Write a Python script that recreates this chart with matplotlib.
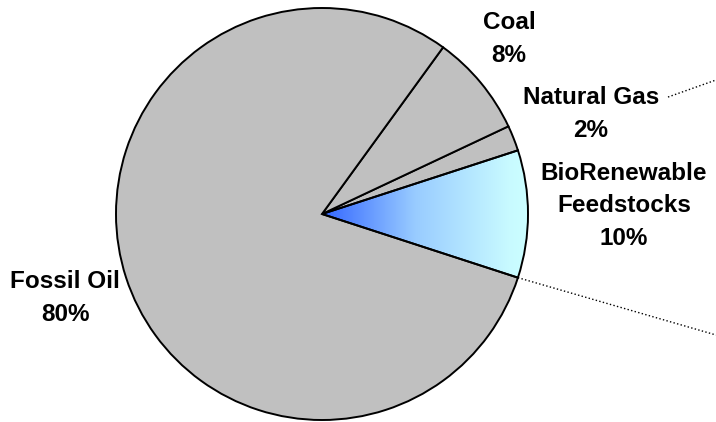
import numpy as np
import matplotlib
matplotlib.use("Agg")
import matplotlib.pyplot as plt
from matplotlib.colors import LinearSegmentedColormap

# data
labels = ["BioRenewable\nFeedstocks", "Natural Gas", "Coal", "Fossil Oil"]
shares = [10, 2, 8, 80]

plt.rcParams['font.family'] = ['Liberation Sans', 'DejaVu Sans']

W, H = 716, 422
fig = plt.figure(figsize=(W / 100, H / 100), dpi=100)
ax = fig.add_axes([0, 0, 1, 1])

cx, cy, r = 322, H - 214, 206
wedges, _ = ax.pie(shares, startangle=-18, counterclock=True, radius=r, center=(cx, cy),
                   colors=["#C0C0C0"] * 4, frame=True,
                   wedgeprops=dict(edgecolor="black", linewidth=1.4))
ax.set_xlim(0, W)
ax.set_ylim(0, H)
ax.set_aspect("equal")
ax.axis("off")

# gradient fill for the biorenewable slice
bio = wedges[0]
bio.set_facecolor("none")
cmap = LinearSegmentedColormap.from_list("bio", [(0, "#3366FF"), (0.45, "#99CCFF"), (0.9, "#C8FAFF"), (1, "#CCFFFF")])
grad = np.linspace(0, 1, 256).reshape(1, -1)
im = ax.imshow(grad, cmap=cmap, extent=(cx, cx + r + 2, cy - r * 0.4, cy + r * 0.4),
               aspect="auto", zorder=bio.get_zorder() - 0.1)
im.set_clip_path(bio)
bio.set_zorder(bio.get_zorder() + 0.2)
ax.set_xlim(0, W)
ax.set_ylim(0, H)

# dotted connector lines (the upper one only shows right of its label)
a0 = np.deg2rad(-18)
a1 = np.deg2rad(18)
x1, y1 = cx + r * np.cos(a1), cy + r * np.sin(a1)
xs = 668
ys = y1 + (H - 80 - y1) * (xs - x1) / (W - x1)
ax.plot([xs, W], [ys, H - 80], ls=":", color="black", lw=1, zorder=0)
ax.plot([cx + r * np.cos(a0), W], [cy + r * np.sin(a0), H - 335], ls=":", color="black", lw=1, zorder=0)

# labels
pos = {"Coal": (509, 39), "Natural Gas": (591, 114),
       "BioRenewable\nFeedstocks": (624, 206), "Fossil Oil": (65, 298)}
for lab, s in zip(labels, shares):
    x, y = pos[lab]
    lines = lab.split("\n") + ["%d%%" % s]
    n = len(lines)
    for i, t in enumerate(lines):
        yy = y + (i - (n - 1) / 2) * 32.5
        ax.text(x, H - yy, t, ha="center", va="center", fontsize=17.5, fontweight="bold", zorder=5)

fig.savefig("out.png", dpi=100)
